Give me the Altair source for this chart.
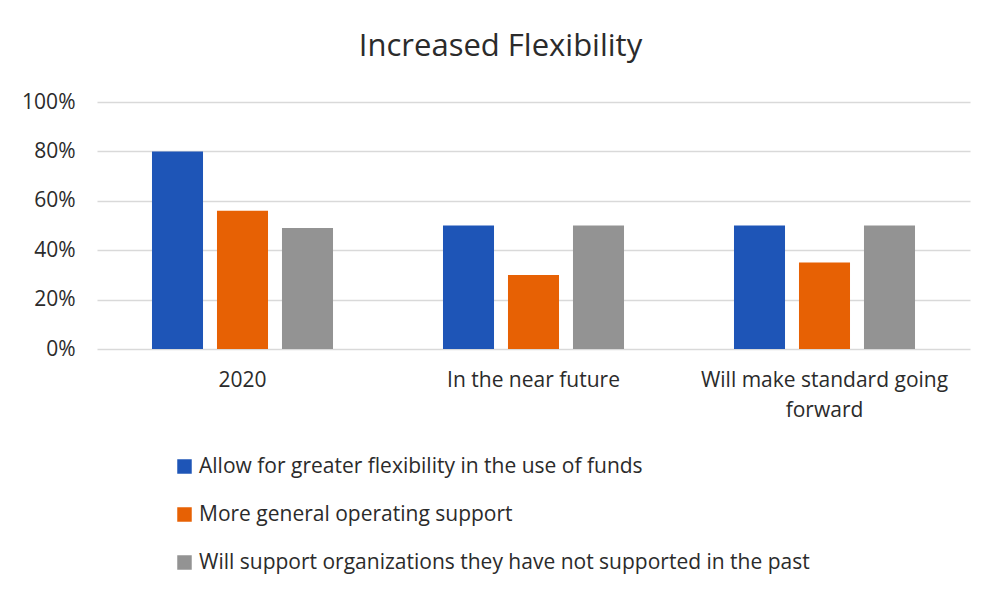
import altair as alt
import pandas as pd

categories = ["2020", "In the near future", "Will make standard going forward"]
series = [
    "Allow for greater flexibility in the use of funds",
    "More general operating support",
    "Will support organizations they have not supported in the past",
]
flex_funds = [0.80, 0.50, 0.50]
operating = [0.56, 0.30, 0.35]
new_orgs = [0.49, 0.50, 0.50]
colors = ["#1e55b7", "#e76104", "#939393"]
y_ticks = [0, 0.2, 0.4, 0.6, 0.8, 1.0]

rows = []
for i, c in enumerate(categories):
    for s, vals in zip(series, [flex_funds, operating, new_orgs]):
        rows.append({"category": c, "series": s, "value": vals[i]})
df = pd.DataFrame(rows)

FONT = "Open Sans"
TEXT = "#2b2b2b"

chart = alt.Chart(df).mark_bar(stroke=None).encode(
    x=alt.X(
        "category:N",
        sort=categories,
        scale=alt.Scale(paddingInner=0, paddingOuter=0),
        axis=alt.Axis(
            title=None,
            labelAngle=0,
            ticks=False,
            domain=False,
            labelFontSize=21,
            labelColor=TEXT,
            labelFont=FONT,
            labelPadding=20,
            labelLineHeight=30,
            labelLimit=400,
            labelExpr="datum.label == 'Will make standard going forward' ? ['Will make standard going', 'forward'] : datum.label",
        ),
    ),
    xOffset=alt.XOffset(
        "series:N",
        sort=series,
        scale=alt.Scale(paddingInner=0.215, paddingOuter=0.846),
    ),
    y=alt.Y(
        "value:Q",
        scale=alt.Scale(domain=[0, 1], nice=False),
        axis=alt.Axis(
            title=None,
            values=y_ticks,
            format=".0%",
            ticks=False,
            domain=False,
            grid=True,
            gridColor="#d9d9d9",
            gridWidth=1.5,
            labelFontSize=21,
            labelColor=TEXT,
            labelFont=FONT,
            labelPadding=22,
        ),
    ),
    color=alt.Color(
        "series:N",
        sort=series,
        scale=alt.Scale(domain=series, range=colors),
        legend=alt.Legend(
            title=None,
            orient="none",
            legendX=77,
            legendY=354,
            direction="vertical",
            symbolType="square",
            symbolSize=210,
            symbolStrokeWidth=0,
            labelFontSize=21,
            labelFont=FONT,
            labelColor=TEXT,
            labelLimit=800,
            rowPadding=26,
            labelOffset=4,
        ),
    ),
).properties(
    width=873,
    height=247,
    title=alt.TitleParams(
        "Increased Flexibility",
        fontSize=31,
        font=FONT,
        fontWeight="normal",
        color=TEXT,
        offset=28,
        dx=-33,
    ),
    autosize=alt.AutoSizeParams(type="none"),
    padding={"left": 89, "top": 94, "right": 22, "bottom": 240},
).configure_view(stroke=None)

chart.save("out.html", embed_options={"renderer": "svg", "actions": False})
